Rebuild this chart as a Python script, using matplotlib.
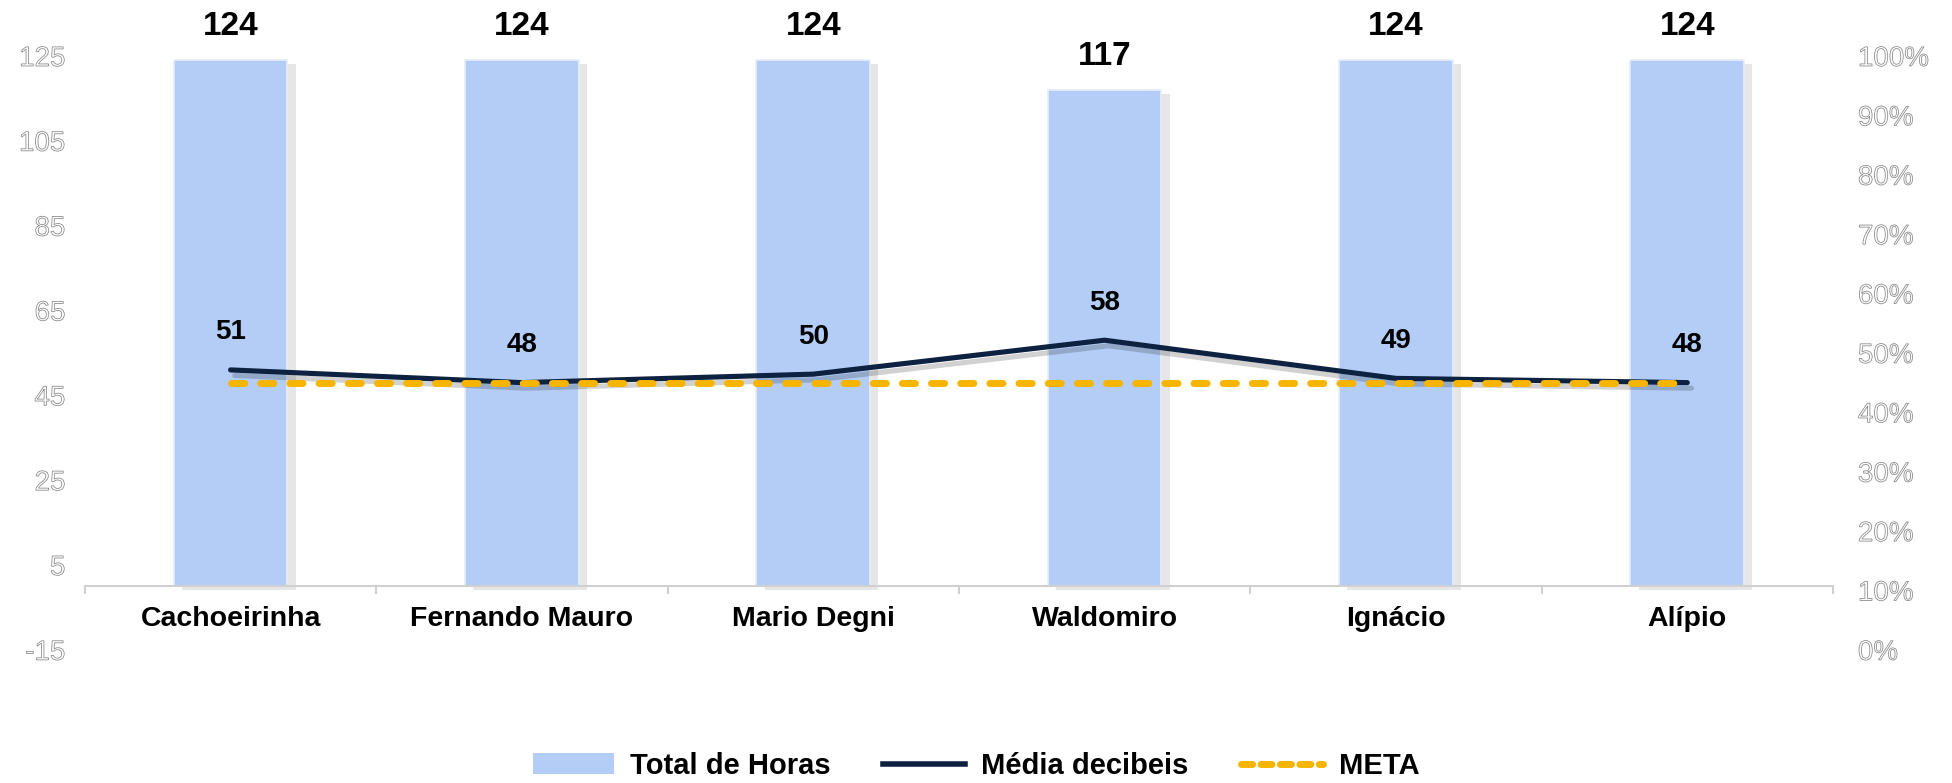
import numpy as np
import matplotlib
matplotlib.use("Agg")
import matplotlib.pyplot as plt
import matplotlib.patheffects as pe
from matplotlib.patches import Patch
from matplotlib.lines import Line2D

plt.rcParams['font.family'] = ['Liberation Sans', 'DejaVu Sans']

# data
locais = ["Cachoeirinha", "Fernando Mauro", "Mario Degni", "Waldomiro", "Ignácio", "Alípio"]
total_horas = [124, 124, 124, 117, 124, 124]
media_decibeis = [51, 48, 50, 58, 49, 48]
meta = [0.45, 0.45, 0.45, 0.45, 0.45, 0.45]   # right axis (45%)
left_ticks = [-15, 5, 25, 45, 65, 85, 105, 125]
right_ticks = [0, 0.1, 0.2, 0.3, 0.4, 0.5, 0.6, 0.7, 0.8, 0.9, 1.0]

bar_color = "#B3CDF6"
line_color = "#0D2240"
meta_color = "#F7B500"
axis_gray = "#D0D0D0"

fig = plt.figure(figsize=(19.52, 7.83), dpi=100)
ax = fig.add_axes([0.0435, 0.170, 0.8955, 0.7585])
ax2 = ax.twinx()

# spines first (set_position resets the ticks)
for a in (ax, ax2):
    for s in ("top", "left", "right", "bottom"):
        a.spines[s].set_visible(False)
ax.spines["bottom"].set_visible(True)
ax.spines["bottom"].set_position(("data", 0))
ax.spines["bottom"].set_color(axis_gray)
ax.spines["bottom"].set_linewidth(1.5)

x = np.arange(len(locais))

bars = ax.bar(x, total_horas, width=0.39, color=bar_color, edgecolor="#E6EEFA",
              linewidth=1.2, zorder=2)
for b in bars:
    b.set_path_effects([pe.SimplePatchShadow(offset=(6, -3), shadow_rgbFace="#777777", alpha=0.18),
                        pe.Normal()])

ax.plot(x, media_decibeis, color=line_color, lw=3.7, solid_capstyle="round", zorder=3,
        path_effects=[pe.SimpleLineShadow(offset=(3, -4), alpha=0.18), pe.Normal()])

ax2.plot(x, meta, color=meta_color, lw=5, dashes=(1.9, 2.3), dash_capstyle="round", zorder=4)

# value labels
for xi, v in zip(x, total_horas):
    ax.annotate(str(v), (xi, v), xytext=(0, 24), textcoords="offset points",
                ha="center", va="center", fontsize=24, fontweight="bold", color="black")
for xi, v in zip(x, media_decibeis):
    ax.annotate(str(v), (xi, v), xytext=(0, 27), textcoords="offset points",
                ha="center", va="center", fontsize=20, fontweight="bold", color="black")

# axes
ax.set_xlim(-0.5, len(locais) - 0.5)
ax.set_ylim(-15, 125)
ax2.set_ylim(0, 1)

ax.set_yticks(left_ticks, labels=[str(t) for t in left_ticks])
ax2.set_yticks(right_ticks, labels=[f"{int(round(t * 100))}%" for t in right_ticks])

ax.set_xticks(x, labels=locais, fontweight="bold", fontsize=20.5)
ax.set_xticks(np.arange(-0.5, len(locais), 1.0), minor=True)
ax.tick_params(axis="x", which="major", length=0, pad=14)
ax.tick_params(axis="x", which="minor", length=6, width=1.5, color=axis_gray)
ax.tick_params(axis="y", length=0, pad=14, labelsize=20)
ax2.tick_params(axis="y", length=0, pad=18, labelsize=20)
for t in ax.get_xticklabels():
    t.set_fontweight("bold")
    t.set_fontsize(20.5)

hollow = [pe.PathPatchEffect(edgecolor="#858585", facecolor="white", linewidth=0.55)]
for t in ax.get_yticklabels() + ax2.get_yticklabels():
    t.set_path_effects(hollow)

handles = [Patch(facecolor=bar_color, edgecolor="none"),
           Line2D([], [], color=line_color, lw=4),
           Line2D([], [], color=meta_color, lw=5, dashes=(1.6, 1.2), dash_capstyle="round")]
labels = ["Total de Horas", "Média decibeis", "META"]
fig.legend(handles, labels, loc="center", bbox_to_anchor=(0.5, 0.022), ncol=3, frameon=False,
           prop={"size": 21, "weight": "bold"}, handlelength=2.8, handletextpad=0.55,
           columnspacing=1.8)

fig.savefig("out.png", dpi=100)
